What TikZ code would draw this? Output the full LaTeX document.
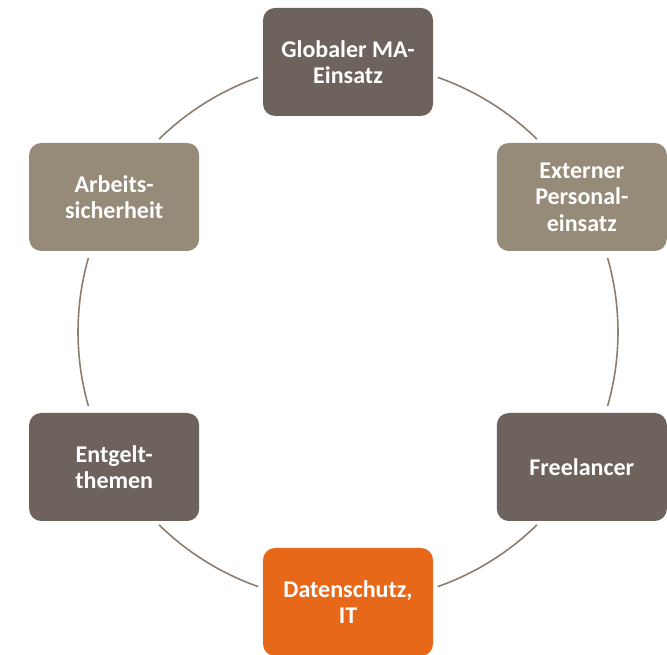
\documentclass[tikz,border=0pt]{standalone}
\usepackage{fontspec}
\setmainfont{Carlito}
\definecolor{boxdark}{RGB}{110,98,92}
\definecolor{boxlight}{RGB}{150,138,120}
\definecolor{boxorange}{RGB}{232,104,26}
\definecolor{ringline}{RGB}{140,126,110}
\tikzset{
  topic/.style={rounded corners=12pt, minimum width=170pt, minimum height=108pt,
    text=white, align=center, inner sep=2pt,
    font=\fontsize{24}{26.5}\selectfont\bfseries},
  ring/.style={draw=ringline, line width=1.6pt}
}
\begin{document}
\begin{tikzpicture}[x=1pt,y=1pt]
\useasboundingbox (0,0) rectangle (667,655);
\coordinate (c) at (348,323);
\def\R{270}
% the six topics placed around the ring
\node[topic, fill=boxdark]   (glob) at ([shift={(90:\R)}]c)  {Globaler MA-\\Einsatz};
\node[topic, fill=boxlight]  (ext)  at ([shift={(30:\R)}]c)  {Externer\\Personal-\\einsatz};
\node[topic, fill=boxdark]   (free) at ([shift={(-30:\R)}]c) {Freelancer};
\node[topic, fill=boxorange] (dat)  at ([shift={(-90:\R)}]c) {Datenschutz,\\IT};
\node[topic, fill=boxdark]   (ent)  at ([shift={(210:\R)}]c) {Entgelt-\\themen};
\node[topic, fill=boxlight]  (arb)  at ([shift={(150:\R)}]c) {Arbeits-\\sicherheit};
% ring segments between neighbouring topics
\foreach \a/\b in {109.4/134.4, 45.6/70.6, 164.1/195.9, -15.9/15.9, 225.6/250.6, 289.4/314.4}
  \draw[ring] ([shift={(\a:\R)}]c) arc[start angle=\a, end angle=\b, radius=\R];
\end{tikzpicture}
\end{document}
